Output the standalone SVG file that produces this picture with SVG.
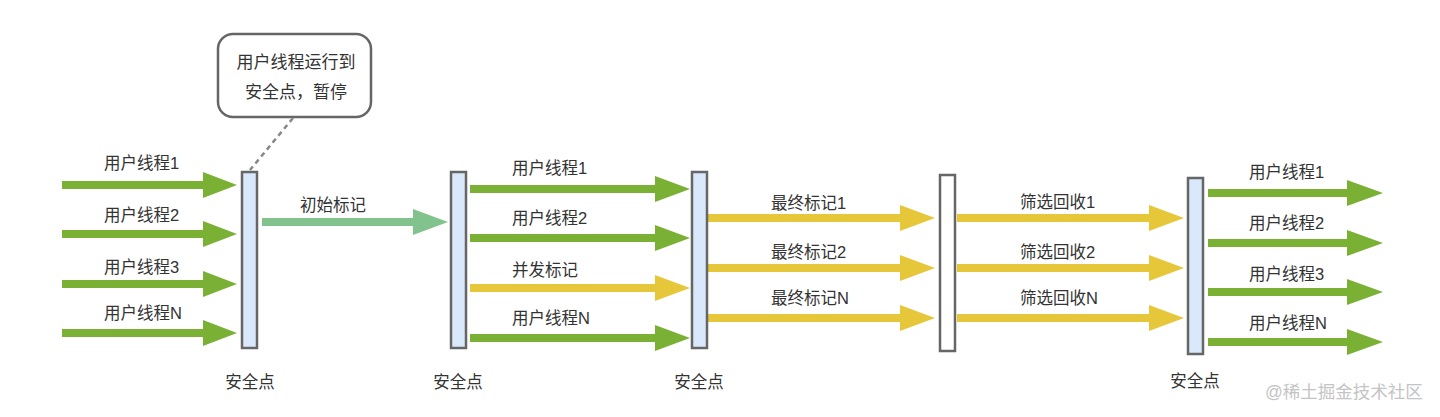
<svg xmlns="http://www.w3.org/2000/svg" width="1440" height="417" viewBox="0 0 1440 417">
<style>
  text { font-family: "Liberation Sans", "Noto Sans CJK SC", sans-serif; fill: #333333; }
  .lbl { font-size: 16.5px; }
  .mid { text-anchor: middle; }
  .bar { fill: #dae8fc; stroke: #666666; stroke-width: 2.5; }
  .barw { fill: #ffffff; stroke: #666666; stroke-width: 2.5; }
  .g { fill: #7ab134; }
  .lg { fill: #82c28d; }
  .y { fill: #e6c73a; }
  .wm { font-size: 17.5px; fill: #c4c4c4; }
</style>
<rect width="1440" height="417" fill="#ffffff"/>

<g id="callout">
  <rect x="218" y="34" width="153" height="83" rx="15" ry="15" fill="#ffffff" stroke="#666666" stroke-width="2.5"/>
  <text class="mid" x="296" y="68" font-size="17">用户线程运行到</text>
  <text class="mid" x="296" y="98" font-size="17">安全点，暂停</text>
</g>

<g id="connectors">
  <line x1="293" y1="118" x2="250" y2="170" stroke="#888888" stroke-width="2.5" stroke-dasharray="5,4"/>
  <!-- left green -->
  <polygon class="g" points="62,181 203,181 203,172 237,185 203,198 203,189 62,189"/>
  <polygon class="g" points="62,230 203,230 203,221 237,234 203,247 203,238 62,238"/>
  <polygon class="g" points="62,280 203,280 203,271 237,284 203,297 203,288 62,288"/>
  <polygon class="g" points="62,329 203,329 203,320 237,333 203,346 203,337 62,337"/>
  <!-- initial mark -->
  <polygon class="lg" points="262,218 413,218 413,209 448,222 413,235 413,226 262,226"/>
  <!-- middle -->
  <polygon class="g" points="470,185 655,185 655,176 690,189 655,202 655,193 470,193"/>
  <polygon class="g" points="470,234 655,234 655,225 690,238 655,251 655,242 470,242"/>
  <polygon class="y" points="470,284 655,284 655,275 690,288 655,301 655,292 470,292"/>
  <polygon class="g" points="470,334 655,334 655,325 690,338 655,351 655,342 470,342"/>
  <!-- final mark -->
  <polygon class="y" points="708,214 900,214 900,205 935,218 900,231 900,222 708,222"/>
  <polygon class="y" points="708,264 900,264 900,255 935,268 900,281 900,272 708,272"/>
  <polygon class="y" points="708,314 900,314 900,305 935,318 900,331 900,322 708,322"/>
  <!-- filter collect -->
  <polygon class="y" points="957,214 1149,214 1149,205 1184,218 1149,231 1149,222 957,222"/>
  <polygon class="y" points="957,264 1149,264 1149,255 1184,268 1149,281 1149,272 957,272"/>
  <polygon class="y" points="957,314 1149,314 1149,305 1184,318 1149,331 1149,322 957,322"/>
  <!-- right green -->
  <polygon class="g" points="1208,189 1347,189 1347,180 1383,193 1347,206 1347,197 1208,197"/>
  <polygon class="g" points="1208,239 1347,239 1347,230 1383,243 1347,256 1347,247 1208,247"/>
  <polygon class="g" points="1208,288 1347,288 1347,279 1383,292 1347,305 1347,296 1208,296"/>
  <polygon class="g" points="1208,338 1347,338 1347,329 1383,342 1347,355 1347,346 1208,346"/>
</g>

<g id="labels">
  <text class="lbl" x="104" y="169">用户线程1</text>
  <text class="lbl" x="104" y="221">用户线程2</text>
  <text class="lbl" x="104" y="273">用户线程3</text>
  <text class="lbl" x="104" y="319">用户线程N</text>
  <text class="lbl" x="300" y="211">初始标记</text>
  <text class="lbl" x="512" y="174">用户线程1</text>
  <text class="lbl" x="512" y="224">用户线程2</text>
  <text class="lbl" x="512" y="276">并发标记</text>
  <text class="lbl" x="512" y="324">用户线程N</text>
  <text class="lbl" x="771" y="209">最终标记1</text>
  <text class="lbl" x="771" y="258">最终标记2</text>
  <text class="lbl" x="771" y="304">最终标记N</text>
  <text class="lbl" x="1020" y="208">筛选回收1</text>
  <text class="lbl" x="1020" y="258">筛选回收2</text>
  <text class="lbl" x="1020" y="304">筛选回收N</text>
  <text class="lbl" x="1249" y="178">用户线程1</text>
  <text class="lbl" x="1249" y="229">用户线程2</text>
  <text class="lbl" x="1249" y="280">用户线程3</text>
  <text class="lbl" x="1249" y="329">用户线程N</text>
</g>

<g id="safepoint1">
  <rect class="bar" x="242" y="172" width="15" height="176"/>
  <text class="lbl mid" x="250" y="388">安全点</text>
</g>
<g id="safepoint2">
  <rect class="bar" x="451" y="172" width="15" height="176"/>
  <text class="lbl mid" x="458" y="388">安全点</text>
</g>
<g id="safepoint3">
  <rect class="bar" x="692" y="172" width="15" height="176"/>
  <text class="lbl mid" x="699" y="388">安全点</text>
</g>
<g id="barrier">
  <rect class="barw" x="940" y="175" width="15" height="176"/>
</g>
<g id="safepoint4">
  <rect class="bar" x="1188" y="178" width="15" height="176"/>
  <text class="lbl mid" x="1195" y="387">安全点</text>
</g>

<text class="wm" x="1265" y="398">@稀土掘金技术社区</text>
</svg>
